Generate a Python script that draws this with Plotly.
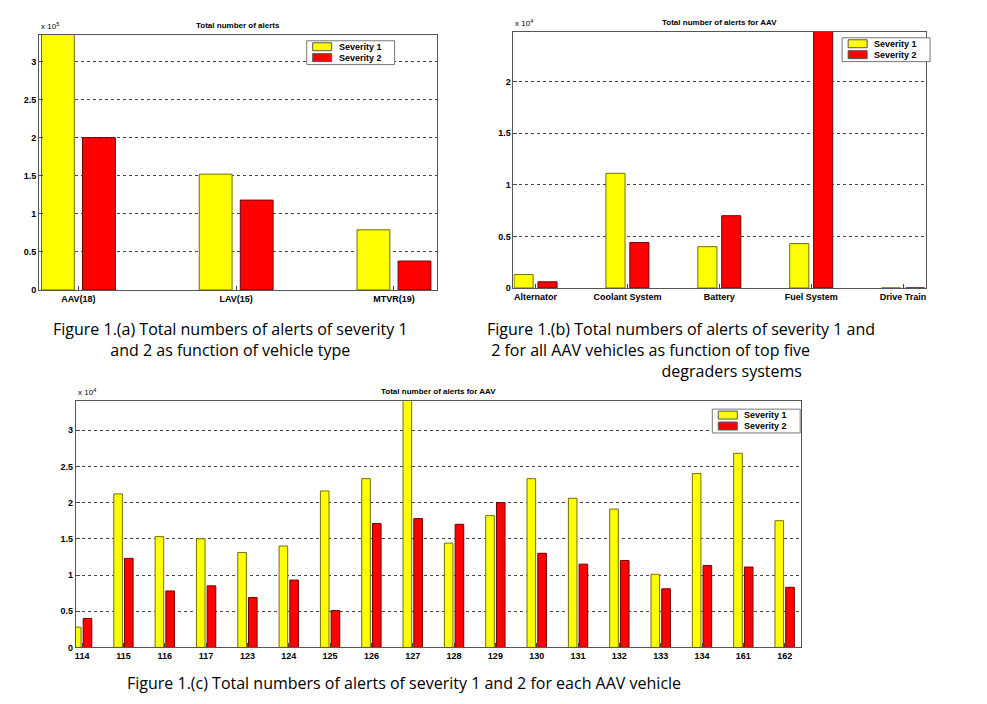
import plotly.graph_objects as go

# ------------------------------------------------------------
# data
# ------------------------------------------------------------
vehicle_types = ["AAV(18)", "LAV(15)", "MTVR(19)"]
type_sev1 = [340000, 152000, 79000]
type_sev2 = [200000, 118000, 38000]

systems = ["Alternator", "Coolant System", "Battery", "Fuel System", "Drive Train"]
sys_sev1 = [1300, 11100, 4000, 4300, 0]
sys_sev2 = [600, 4400, 7000, 26000, 0]

vehicles = ["114", "115", "116", "117", "123", "124", "125", "126", "127",
            "128", "129", "130", "131", "132", "133", "134", "161", "162"]
veh_sev1 = [2800, 21200, 15300, 15000, 13100, 14000, 21600, 23300, 35000,
            14400, 18200, 23300, 20600, 19100, 10100, 24000, 26800, 17500]
veh_sev2 = [4000, 12300, 7800, 8500, 6900, 9300, 5100, 17100, 17800,
            17000, 20000, 13000, 11500, 12000, 8100, 11300, 11100, 8300]

YELLOW = "#ffff00"
RED = "#ff0000"
FONT = "Liberation Sans, Arial"
W, H = 987, 704


def px_x(p):
    return p / W


def px_y(p):
    return 1 - p / H


fig = go.Figure()

panels = [
    # (xaxis, yaxis, cats, s1, s2, xbox, ybox, xrange, yrange, scale, title, exp, legend box)
    ("x", "y", vehicle_types, type_sev1, type_sev2, (30, 428), (27, 284),
     [-0.25, 2.27], [0, 335000], 1e5, "Total number of alerts", 5, (298, 33)),
    ("x2", "y2", systems, sys_sev1, sys_sev2, (505, 918), (24, 282),
     [-0.24, 4.25], [0, 24800], 1e4, "Total number of alerts for AAV", 4, (834, 30)),
    ("x3", "y3", vehicles, veh_sev1, veh_sev2, (67, 793), (396, 644),
     [-0.15, 17.4], [0, 34000], 1e4, "Total number of alerts for AAV", 4, (704, 404)),
]

layout = dict(
    width=W, height=H, paper_bgcolor="white", plot_bgcolor="white",
    margin=dict(l=0, r=0, t=0, b=0), showlegend=False, barmode="group",
    font=dict(family=FONT, size=9, color="black"),
)
annotations = []
shapes = []

for i, (xa, ya, cats, s1, s2, xb, yb, xr, yr, scale, title, exp, leg) in enumerate(panels):
    fig.add_trace(go.Bar(x=cats, y=s1, name="Severity 1", xaxis=xa, yaxis=ya,
                         marker=dict(color=YELLOW, line=dict(color="#707000", width=1)),
                         offsetgroup=f"a{i}"))
    fig.add_trace(go.Bar(x=cats, y=s2, name="Severity 2", xaxis=xa, yaxis=ya,
                         marker=dict(color=RED, line=dict(color="#700000", width=1)),
                         offsetgroup=f"b{i}"))
    ticks = [k * 0.5 * scale for k in range(int(yr[1] / (0.5 * scale)) + 1)]
    ticktext = ["<b>%g</b>" % (t / scale) for t in ticks]
    sfx = "" if i == 0 else str(i + 1)
    layout["xaxis" + sfx] = dict(
        domain=[px_x(xb[0]), px_x(xb[1])], anchor=ya, range=xr, type="category",
        tickvals=cats, ticktext=["<b>" + c + "</b>" for c in cats],
        showline=True, linecolor="#555", mirror=True, ticks="inside", ticklen=4,
        tickfont=dict(size=9, family=FONT), showgrid=False, fixedrange=True)
    layout["yaxis" + sfx] = dict(
        domain=[px_y(yb[1]), px_y(yb[0])], anchor=xa, range=yr,
        tickvals=ticks, ticktext=ticktext, showline=True, linecolor="#555",
        mirror=True, ticks="inside", ticklen=4, tickfont=dict(size=9, family=FONT),
        showgrid=True, gridcolor="#444", griddash="dot", gridwidth=1,
        zeroline=False)
    # title and exponent
    annotations.append(dict(x=(px_x(xb[0]) + px_x(xb[1])) / 2, y=px_y(yb[0] - 3),
                            xref="paper", yref="paper", text="<b>" + title + "</b>",
                            showarrow=False, xanchor="center", yanchor="bottom",
                            font=dict(size=8)))
    annotations.append(dict(x=px_x(xb[0]), y=px_y(yb[0] - 2), xref="paper", yref="paper",
                            text="x 10<sup>%d</sup>" % exp, showarrow=False,
                            xanchor="left", yanchor="bottom", font=dict(size=8)))
    # legend box
    lx, ly = leg
    shapes.append(dict(type="rect", xref="paper", yref="paper",
                       x0=px_x(lx), x1=px_x(lx + 88), y0=px_y(ly + 24), y1=px_y(ly),
                       line=dict(color="#777", width=1), fillcolor="white"))
    for j, (c, lab) in enumerate([(YELLOW, "Severity 1"), (RED, "Severity 2")]):
        yy = ly + 6 + j * 11
        shapes.append(dict(type="rect", xref="paper", yref="paper",
                           x0=px_x(lx + 6), x1=px_x(lx + 25), y0=px_y(yy + 4), y1=px_y(yy - 4),
                           line=dict(color="#555", width=1), fillcolor=c))
        annotations.append(dict(x=px_x(lx + 30), y=px_y(yy), xref="paper", yref="paper",
                                text="<b>" + lab + "</b>", showarrow=False,
                                xanchor="left", yanchor="middle", font=dict(size=9)))

layout["bargap"] = 0.48
layout["bargroupgap"] = 0.2

captions = [
    (222, 310, "center", "center",
     "Figure 1.(a) Total numbers of alerts of severity 1<br>and 2 as function of vehicle type"),
    (476, 310, "left", "left",
     "Figure 1.(b) Total numbers of alerts of severity 1 and<br>"
     "&nbsp;2 for all AAV vehicles as function of top five<br>"
     "&nbsp;&nbsp;&nbsp;&nbsp;&nbsp;&nbsp;&nbsp;&nbsp;&nbsp;&nbsp;&nbsp;&nbsp;&nbsp;&nbsp;&nbsp;"
     "&nbsp;&nbsp;&nbsp;&nbsp;&nbsp;&nbsp;&nbsp;&nbsp;&nbsp;&nbsp;&nbsp;&nbsp;&nbsp;&nbsp;&nbsp;"
     "&nbsp;&nbsp;&nbsp;&nbsp;&nbsp;&nbsp;&nbsp;&nbsp;&nbsp;&nbsp;&nbsp;&nbsp;"
     "degraders systems"),
    (395, 667, "center", "center",
     "Figure 1.(c) Total numbers of alerts of severity 1 and 2 for each AAV vehicle"),
]
for cx, cy, xanc, al, txt in captions:
    annotations.append(dict(x=px_x(cx), y=px_y(cy), xref="paper", yref="paper",
                            text=txt, showarrow=False, xanchor=xanc, align=al,
                            yanchor="top",
                            font=dict(size=16, family="Open Sans, Liberation Sans")))

layout["annotations"] = annotations
layout["shapes"] = shapes
fig.update_layout(**layout)

fig.write_html("out.html")
